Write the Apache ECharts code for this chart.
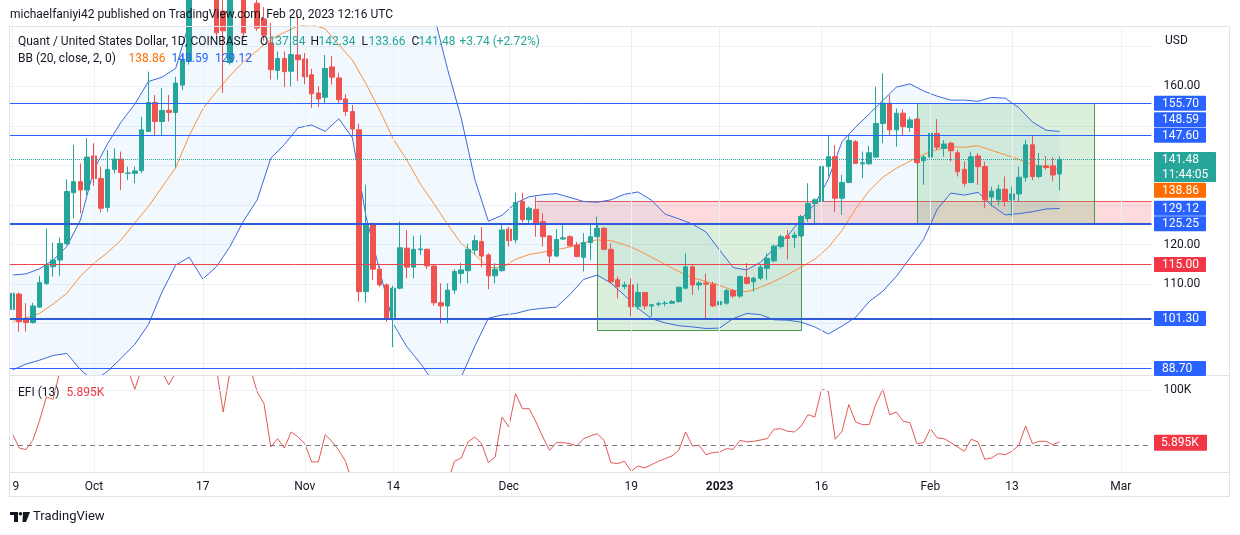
<!DOCTYPE html>
<html>
<head>
<meta charset="utf-8">
<script src="https://cdn.jsdelivr.net/npm/echarts/dist/echarts.min.js"></script>
<style>
  html, body { margin: 0; padding: 0; background: #ffffff; }
  #chart { width: 1240px; height: 535px; }
</style>
</head>
<body>
<div id="chart"></div>
<script>
// ---------------- DATA ----------------
const firstDay = '2022-09-19';
const dayCount = 168;
// tick labels on the time axis
const tickDates = ['2022-09-19','2022-10-01','2022-10-17','2022-11-01','2022-11-14','2022-12-01','2022-12-19','2023-01-01','2023-01-16','2023-02-01','2023-02-13','2023-03-01'];
const tickTexts = ['19','Oct','17','Nov','14','Dec','19','2023','16','Feb','13','Mar'];
// price-axis tick labels that are not hidden under the price boxes
const priceTickLabels = [110, 120, 160];

// daily candles [open, high, low, close], QNT/USD, from 2022-09-19
const ohlc = [
[103.6,108.9,98.4,107.7],[107.5,107.9,98.0,100.5],[101.1,105.2,98.0,100.3],[100.3,105.3,100.0,104.5],[104.2,112.1,104.0,110.4],
[110.2,124.1,109.8,114.7],[114.4,120.5,111.9,116.1],[116.1,121.8,112.1,120.3],[120.2,136.5,119.9,133.4],[133.1,145.2,126.6,135.9],
[135.9,140.5,127.9,133.8],[133.8,146.9,132.5,142.1],[142.4,145.6,134.8,136.7],[136.7,139.7,128.1,129.2],[129.4,143.9,128.3,139.0],
[139.0,144.3,138.0,141.6],[141.6,143.5,133.8,138.2],[138.0,139.7,136.3,138.1],[138.0,139.7,135.5,138.6],[138.7,152.3,138.0,149.0],
[148.6,163.7,148.6,155.9],[155.9,157.8,147.7,151.1],[151.1,159.5,147.7,153.9],[153.9,157.8,151.1,153.4],[153.4,162.4,139.5,160.8],
[160.3,168.0,159.0,166.5],[166.3,188,165.5,185],[185,196,181,192],[192,203,187,198],[198,202,184,190],
[186,190,172,173.5],[179,183,158.3,174],[166,190,165.5,185],[185,195,179,190],[184,190,172,173.5],
[176,186,175.5,182],[181,184,174,174.7],[177,180,171.5,172.9],[171,176,161.7,164.2],[164.0,168.8,161.7,167.0],
[167.0,168.8,159.8,163.7],[163.8,178,160,168.0],[167.9,178,161.3,166.7],[166.9,168.4,160.5,162.4],[162.9,164.4,154.5,158.1],
[158.3,160,154.8,156.8],[157.2,167.9,155.5,164.5],[164.9,167.6,160.4,162.3],[162.1,163.4,155.5,156.6],[156.8,158,152.5,153.6],
[153.6,155.3,147.3,149.2],[149.0,150.6,105.6,108.1],[108.1,135.1,105.3,125.2],[125.2,125.6,111.0,113.8],[113.8,114.6,109.4,109.8],
[109.8,110.2,100.5,101.1],[101.1,109.6,94.1,109.0],[109.0,125.8,108.7,119.2],[119.1,123.7,111.5,114.3],[114.3,122.2,111.5,118.8],
[118.7,122.4,117.4,118.9],[118.8,119.0,113.8,114.6],[114.6,114.8,104.5,105.3],[105.3,110.2,100.1,104.5],[104.5,110.2,100.1,108.5],
[108.5,113.8,107.5,113.2],[112.7,115.4,110.2,113.6],[113.4,120.2,110.2,118.8],[118.6,122.4,117.4,121.0],[120.8,124.4,114.3,117.1],
[117.4,117.8,108.7,112.1],[112.1,115.3,110.2,113.8],[113.4,125.0,113.2,123.7],[123.9,124.5,119.5,121.0],[121.2,133.1,120.3,130.6],
[130.9,133.1,125.6,126.3],[126.3,129.6,125.4,129.2],[128.9,132.1,122.0,125.4],[125.8,127.9,119.5,122.0],[122.2,122.4,115.3,117.1],
[117.1,123.9,116.9,121.3],[121.4,124.9,121.2,121.7],[122.0,122.4,119.5,119.7],[119.9,120.7,116.8,117.0],[116.8,122.9,113.2,120.5],
[120.5,125.4,116.1,122.0],[122.0,127.1,121.9,124.1],[124.1,124.5,118.6,118.8],[118.8,120.3,110.2,110.6],[111.1,111.9,106.4,109.4],
[109.4,110.6,108.7,109.8],[109.8,111.5,101.8,104.3],[104.3,110.2,103.6,107.9],[107.9,107.9,103.6,104.5],[104.5,105.0,101.8,104.8],
[104.9,105.6,104.3,105.1],[105.1,105.8,104.4,105.2],[105.2,106.0,105.0,105.6],[105.6,109.4,105.3,109.2],[109.0,117.8,108.7,114.4],
[114.4,114.8,107.3,109.8],[109.8,110.8,108.5,110.3],[110.3,112.7,101.4,110.0],[110.0,110.6,104.2,104.5],[104.8,106.0,104.5,105.6],
[105.2,108.8,104.8,108.4],[108.4,108.8,106.5,107.0],[107.0,112.2,106.5,111.9],[111.7,115.3,110.0,110.2],[110.6,111.9,108.1,111.5],
[111.5,115.0,111.0,114.3],[114.0,117.8,111.1,116.5],[115.9,120.0,115.5,119.6],[119.5,122.5,119.0,122.0],[122.2,123.7,116.3,121.6],
[121.8,123.3,119.1,122.4],[122.2,127.5,122.0,127.1],[126.6,135.5,125.8,130.4],[130.4,131.7,125.4,131.3],[130.9,143.9,130.0,139.7],
[139.7,147.7,137.2,142.2],[142.2,145.2,128.3,131.7],[131.7,137.6,127.5,135.7],[135.7,147.7,135.5,146.3],[146.0,146.4,140.4,140.5],
[140.4,143.5,136.75,140.7],[140.4,144.9,140.3,143.2],[142.1,159.9,141.9,150.6],[150.6,163.3,145.6,155.7],[155.7,157.8,147.7,149.0],
[149.0,154.4,144.75,153.2],[153.2,154.2,147.7,149.8],[149.6,152.3,148.5,151.5],[151.7,151.9,140.5,140.7],[141.2,142.6,135.1,142.1],
[142.1,149.8,135.1,148.1],[148.1,151.7,143.9,144.6],[144.3,146.4,142.2,145.4],[145.6,146.0,141.0,143.7],[143.2,143.9,137.2,138.4],
[139.0,141.0,134.65,135.5],[135.7,143.5,135.5,142.2],[142.4,143.1,135.1,139.7],[139.7,140.96,129.2,131.3],[132.0,134.65,129.6,133.5],
[131.3,135.1,130.0,134.0],[134.0,137.2,129.6,130.9],[131.3,134.65,127.1,132.8],[132.8,139.7,130.9,137.0],[137.0,146.4,135.9,145.2],
[145.2,147.4,136.3,137.2],[137.2,143.1,136.75,139.9],[139.9,142.4,138.9,139.5],[139.9,142.1,136.0,137.6],[137.84,142.34,133.66,141.48]
];

// Bollinger Bands (20, close, 2) at these candle positions
const bbIndex = [0,2,4,6,8,10,12,14,16,18,20,22,24,26,28,30,32,34,36,38,40,42,44,46,48,50,52,54,56,58,60,62,64,66,68,70,72,74,76,78,80,82,84,86,88,90,92,94,96,98,100,102,104,106,108,110,112,114,116,118,120,122,124,126,128,130,132,134,136,138,140,142,144,146,148,150,152,154];
const bbUpper = [112.3,112.6,113.9,116.1,119.5,126.2,139.0,145.5,151.0,155.5,
161.2,162.3,164.5,176.0,188,198,205,210,212,213,
213,212,211,210,208,206,203,200,196,191,
185,178,164.3,152.0,136.5,125.9,127.4,130.5,132.1,132.6,
132.9,131.9,130.9,130.7,131.3,132.7,133.3,131.2,127.7,126.5,
125.2,123.2,118.6,114.2,113.6,115.5,119.0,122.2,126.5,130.2,
136.6,146.0,149.7,153.0,156.4,159.8,160.6,158.8,157.5,156.5,
156.5,156.2,157.2,157.0,154.6,151.0,148.9,148.59];
const bbMiddle = [100.5,101.5,102.6,105.0,107.7,112.0,115.3,118.0,121.2,125.5,
129.6,134.5,139.4,147.5,154.3,158.6,162.7,166.2,169.0,171.9,
173.6,175.2,175.6,174.5,170.5,166.6,160.6,154.0,146.7,141.4,
135.3,130.3,125.1,120.3,117.5,114.2,114.2,116.3,117.5,118.1,
118.7,119.4,120.5,121.2,121.0,120.0,118.6,116.8,115.0,113.2,
111.6,110.7,109.7,108.4,108.1,109.2,110.7,112.4,114.3,116.3,
119.3,123.6,129.0,133.6,137.0,139.3,141.1,142.8,144.0,144.7,
144.6,145.0,143.8,142.7,141.5,140.2,139.6,138.86];
const bbLower = [88.3,89.8,90.8,92.0,92.5,88.4,85.5,88.0,91.3,94.8,
99.8,108.0,114.8,116.8,111.3,114.4,119.5,126.0,131.3,141.8,
145.3,149.5,150.2,148.6,151.8,147.0,127.1,113.5,100.0,94.2,
90.0,85.0,84.0,86.5,94.3,101.4,102.2,102.6,103.5,103.9,
104.2,107.4,111.2,112.3,110.3,107.2,103.9,101.3,100.2,99.5,
99.2,98.8,98.9,101.3,102.6,102.3,101.0,100.9,100.4,99.2,
97.4,99.4,101.6,105.6,108.2,112.0,116.6,121.3,128.9,133.0,
132.5,133.2,129.9,127.5,127.8,128.3,129.0,129.12];

// Elder's Force Index (13), in thousands
const efi = [20.7,-5.5,-8.3,8.5,45,87.8,83.5,136,170,185,
165,190,160,140,165,160,145,138,101.8,140,
175,150,134,110,132,160,250,280,300,240,
140,60.3,135,160,150,140,96.9,75.6,-3.7,11.6,
-5.5,23.8,14.6,2.4,-31,-31,18.9,6.7,-10,-30,
-70,-600,-300,-330,-300,-320,-200,-120,-130,-100,
-85,-95,-150,-120,-70,-29.9,-23.8,5.5,14.6,2.4,
-32.3,-21.9,51.2,32.9,93.8,66.4,66.4,42,14.6,-9.7,
4.3,4.3,2.4,-1.8,11.6,16.5,20.7,8.5,-32.3,-34.1,
-29.9,-48,-38.4,-42,-35.9,-29.9,-25,-20,-9.7,23.8,
-1.8,-0.6,-17.7,-14,-12.8,-6.7,-7.9,8.5,5.5,6.7,
9,11.6,28.7,29.9,25,23.8,34.7,55.4,51.2,101.8,
98.1,10.4,25,73.9,42.1,37.2,37.2,75.6,101.8,55.4,
60.3,43.3,40.8,2.4,4.3,29.9,12.8,11.6,4.3,-3.7,
-11.6,10.4,5.5,-26.2,-23.8,-15.8,-17.7,-11.6,-0.6,34.7,
2.4,6.7,6.7,0.6,5.895];

// horizontal levels drawn on the chart
const levelValues = [155.70, 147.60, 125.25, 115.00, 101.30, 88.70];
const levelKinds  = ['blue', 'blue', 'blueBold', 'red', 'blueBold', 'blue'];
const lastPrice = 141.48;
const lastCountdown = '11:44:05';
const bbLast = { upper: 148.59, middle: 138.86, lower: 129.12 };
const efiLast = 5.895;
// zones (start date, end date or null = extends to the right edge, price bounds)
const zones = [
  { from: '2022-12-05', to: null,         top: 131.1,  bottom: 125.25, kind: 'red' },
  { from: '2022-12-14', to: '2023-01-13', top: 125.25, bottom: 98.4,   kind: 'green' },
  { from: '2023-01-30', to: '2023-02-25', top: 155.70, bottom: 125.25, kind: 'green' }
];

// ---------------- BUILD ----------------
const categories = [];
(function () {
  const t0 = Date.parse(firstDay + 'T00:00:00Z');
  for (let d = 0; d < dayCount; d++) categories.push(new Date(t0 + d * 86400000).toISOString().slice(0, 10));
})();
const tickMap = {};
tickDates.forEach((d, k) => { tickMap[d] = tickTexts[k]; });

const candleData = ohlc.map(r => [r[0], r[3], r[2], r[1]]);
const efiData = efi.map((v, k) => [k, v]);
const upperData = bbIndex.map((x, k) => [x, bbUpper[k]]);
const middleData = bbIndex.map((x, k) => [x, bbMiddle[k]]);
const lowerData = bbIndex.map((x, k) => [x, bbLower[k]]);

const UP = '#26a69a', DOWN = '#ef5350';
const BOX_BLUE = '#2962ff', RED = '#f23645', ORANGE = '#ff6d00';
const FONT = 'Roboto, "Liberation Sans", Arial, sans-serif';
const TXT = '#131722';
const GRIDC = '#eef0f5';

const levelStyle = {
  blue: { color: '#2962ff', width: 1 },
  blueBold: { color: '#2f5ad8', width: 2 },
  red: { color: '#ec4550', width: 1 }
};
const zoneStyle = {
  red:   { fill: 'rgba(242,54,69,0.18)', stroke: 'rgba(236,69,80,0.9)', sides: 'tb' },
  green: { fill: 'rgba(76,175,80,0.2)',  stroke: '#4a9a4e',              sides: 'tblr' }
};

const chart = echarts.init(document.getElementById('chart'), null, { renderer: 'canvas' });

const gridL = 9, gridR = 88.6;
const option = {
  animation: false,
  backgroundColor: '#ffffff',
  textStyle: { fontFamily: FONT },
  grid: [
    { left: gridL, right: gridR, top: 26, height: 349, containLabel: false, outerBoundsMode: 'none' },
    { left: gridL, right: gridR, top: 376, height: 96, containLabel: false, outerBoundsMode: 'none' }
  ],
  xAxis: [
    { type: 'category', gridIndex: 0, data: categories, boundaryGap: true,
      axisLine: { show: false }, axisTick: { show: false }, axisLabel: { show: false }, splitLine: { show: false } },
    { type: 'category', gridIndex: 1, data: categories, boundaryGap: true,
      axisLine: { show: false }, axisTick: { show: false }, splitLine: { show: false },
      axisLabel: {
        show: true, margin: 9, fontSize: 12, color: TXT, fontFamily: FONT,
        interval: (idx, val) => tickMap[val] !== undefined,
        formatter: (val) => tickMap[val] === '2023' ? '{b|2023}' : (tickMap[val] || ''),
        rich: { b: { fontWeight: 'bold', fontSize: 12, color: TXT, fontFamily: FONT } }
      } }
  ],
  yAxis: [
    { type: 'value', gridIndex: 0, position: 'right', min: 87.05, max: 175.23, splitNumber: 9, scale: true,
      axisLine: { show: false }, axisTick: { show: false },
      splitLine: { show: true, lineStyle: { color: GRIDC, width: 1 } },
      axisLabel: { margin: 12, fontSize: 12, color: TXT, fontFamily: FONT, showMinLabel: false, showMaxLabel: false,
        formatter: (v) => priceTickLabels.indexOf(Math.round(v * 100) / 100) >= 0 ? v.toFixed(2) : '' } },
    { type: 'value', gridIndex: 1, position: 'right', min: -49.4, max: 126.1, splitNumber: 3,
      axisLine: { show: false }, axisTick: { show: false }, splitLine: { show: false },
      axisLabel: { margin: 12, fontSize: 12, color: TXT, fontFamily: FONT, showMinLabel: false, showMaxLabel: false,
        formatter: (v) => v === 100 ? '100K' : '' } }
  ],
  series: [
    // grid lines (below everything)
    { type: 'line', name: 'gridTop', xAxisIndex: 0, yAxisIndex: 0, data: categories.map(() => null), z: 0, silent: true,
      markLine: { silent: true, symbol: ['none', 'none'], label: { show: false },
        lineStyle: { color: GRIDC, width: 1, type: 'solid' },
        data: tickDates.map(d => ({ xAxis: d })) } },
    { type: 'line', name: 'gridBottom', xAxisIndex: 1, yAxisIndex: 1, data: categories.map(() => null), z: 0, silent: true,
      markLine: { silent: true, symbol: ['none', 'none'], label: { show: false },
        lineStyle: { color: GRIDC, width: 1, type: 'solid' },
        data: tickDates.map(d => ({ xAxis: d })).concat([{ yAxis: 100 }]) } },
    // zones
    { type: 'custom', name: 'zones', xAxisIndex: 0, yAxisIndex: 0, z: 1, silent: true, clip: true,
      data: zones.map((zn, k) => [categories.indexOf(zn.from), zn.top, k]),
      renderItem: function (params, api) {
        const zn = zones[params.dataIndex];
        const st = zoneStyle[zn.kind];
        const cs = params.coordSys;
        const p1 = api.coord([categories.indexOf(zn.from), zn.top]);
        const p2 = zn.to ? api.coord([categories.indexOf(zn.to), zn.bottom]) : [cs.x + cs.width, api.coord([0, zn.bottom])[1]];
        const x1 = Math.round(p1[0]) + 0.5, x2 = Math.round(p2[0]) + 0.5, y1 = Math.round(p1[1]) + 0.5, y2 = Math.round(p2[1]) + 0.5;
        const ch = [{ type: 'rect', shape: { x: x1, y: y1, width: x2 - x1, height: y2 - y1 }, style: { fill: st.fill } }];
        const ls = { stroke: st.stroke, lineWidth: 1 };
        if (st.sides.indexOf('t') >= 0) ch.push({ type: 'line', shape: { x1: x1, y1: y1, x2: x2, y2: y1 }, style: ls });
        if (st.sides.indexOf('b') >= 0) ch.push({ type: 'line', shape: { x1: x1, y1: y2, x2: x2, y2: y2 }, style: ls });
        if (st.sides.indexOf('l') >= 0) ch.push({ type: 'line', shape: { x1: x1, y1: y1, x2: x1, y2: y2 }, style: ls });
        if (st.sides.indexOf('r') >= 0) ch.push({ type: 'line', shape: { x1: x2, y1: y1, x2: x2, y2: y2 }, style: ls });
        return { type: 'group', children: ch };
      } },
    // BB background
    { type: 'custom', name: 'bbFill', xAxisIndex: 0, yAxisIndex: 0, z: 1, silent: true, clip: true,
      data: [[0, bbMiddle[0]]],
      renderItem: function (params, api) {
        const pts = [];
        for (let k = 0; k < bbIndex.length; k++) pts.push(api.coord([bbIndex[k], bbUpper[k]]));
        for (let k = bbIndex.length - 1; k >= 0; k--) pts.push(api.coord([bbIndex[k], bbLower[k]]));
        return { type: 'polygon', shape: { points: pts }, style: { fill: 'rgba(33,150,243,0.06)' } };
      } },
    { type: 'line', name: 'BB upper', xAxisIndex: 0, yAxisIndex: 0, data: upperData, showSymbol: false, z: 2, silent: true,
      lineStyle: { color: '#3d68dc', width: 1 } },
    { type: 'line', name: 'BB lower', xAxisIndex: 0, yAxisIndex: 0, data: lowerData, showSymbol: false, z: 2, silent: true,
      lineStyle: { color: '#3d68dc', width: 1 } },
    { type: 'line', name: 'BB basis', xAxisIndex: 0, yAxisIndex: 0, data: middleData, showSymbol: false, z: 2, silent: true,
      lineStyle: { color: '#f7913d', width: 1 } },
    { type: 'candlestick', name: 'QNTUSD', xAxisIndex: 0, yAxisIndex: 0, data: candleData, z: 3, barWidth: 5, clip: true,
      itemStyle: { color: UP, color0: DOWN, borderColor: UP, borderColor0: DOWN, borderWidth: 1 },
      markLine: { silent: true, symbol: ['none', 'none'], label: { show: false },
        data: levelValues.map((v, k) => ({ yAxis: v, lineStyle: { color: levelStyle[levelKinds[k]].color, width: levelStyle[levelKinds[k]].width, type: 'solid', opacity: 1 } }))
          .concat([{ yAxis: lastPrice, lineStyle: { color: UP, width: 1, type: 'dotted', opacity: 1 } }]) } },
    { type: 'line', name: 'EFI', xAxisIndex: 1, yAxisIndex: 1, data: efiData, showSymbol: false, z: 3, silent: true,
      lineStyle: { color: '#e05a55', width: 1 },
      markLine: { silent: true, symbol: ['none', 'none'], label: { show: false },
        data: [{ yAxis: 0, lineStyle: { color: '#787b86', width: 1, type: [5, 4] } }] } }
  ]
};
chart.setOption(option);

// ---------------- OVERLAYS (text, price boxes, frame) ----------------
function txt(x, y, s, color, size, weight) {
  return { type: 'text', x: x, y: y, z: 50, silent: true,
    style: { text: s, fill: color, fontSize: size || 12, fontFamily: FONT, fontWeight: weight || 'normal', verticalAlign: 'middle', align: 'left' } };
}
const g = [];
const BORDER = '#e0e3eb';
function hline(x1, x2, y) { return { type: 'line', z: 40, silent: true, shape: { x1: x1, y1: y, x2: x2, y2: y }, style: { stroke: BORDER, lineWidth: 1 } }; }
function vline(x, y1, y2) { return { type: 'line', z: 40, silent: true, shape: { x1: x, y1: y1, x2: x, y2: y2 }, style: { stroke: BORDER, lineWidth: 1 } }; }
g.push({ type: 'rect', z: 39, silent: true, shape: { x: 0, y: 474, width: 9, height: 22 }, style: { fill: '#ffffff' } });
g.push(hline(9, 1230, 26.5), hline(9, 1230, 375.5), hline(9, 1230, 472.5), hline(9, 1230, 496.5), vline(9.5, 26, 497), vline(1229.5, 26, 497));

// header texts
g.push(txt(10, 15, 'michaelfaniyi42 published on TradingView.com, Feb 20, 2023 12:16 UTC', TXT, 12));
g.push(txt(18, 42, 'Quant / United States Dollar, 1D, COINBASE', TXT, 12));
const o = ohlc[ohlc.length - 1];
g.push(txt(260, 42, 'O', TXT, 12), txt(268.5, 42, o[0].toFixed(2), UP, 12));
g.push(txt(310.5, 42, 'H', TXT, 12), txt(318.5, 42, o[1].toFixed(2), UP, 12));
g.push(txt(361.5, 42, 'L', TXT, 12), txt(368.5, 42, o[2].toFixed(2), UP, 12));
g.push(txt(411.5, 42, 'C', TXT, 12), txt(418.5, 42, o[3].toFixed(2), UP, 12));
g.push(txt(459.5, 42, '+3.74 (+2.72%)', UP, 12));
g.push(txt(18, 58.5, 'BB (20, close, 2, 0)', TXT, 12));
g.push(txt(128.5, 58.5, bbLast.middle.toFixed(2), ORANGE, 12));
g.push(txt(171.5, 58.5, bbLast.upper.toFixed(2), BOX_BLUE, 12));
g.push(txt(215, 58.5, bbLast.lower.toFixed(2), BOX_BLUE, 12));
g.push(txt(18, 392.5, 'EFI (13)', TXT, 12), txt(66.5, 392.5, efiLast.toFixed(3) + 'K', RED, 12));
g.push(txt(1165, 41, 'USD', TXT, 12));

// TradingView logo
g.push({ type: 'rect', z: 50, silent: true, shape: { x: 10, y: 512, width: 8, height: 3 }, style: { fill: TXT } });
g.push({ type: 'rect', z: 50, silent: true, shape: { x: 14, y: 512, width: 4, height: 10 }, style: { fill: TXT } });
g.push({ type: 'circle', z: 50, silent: true, shape: { cx: 20.5, cy: 513.8, r: 1.8 }, style: { fill: TXT } });
g.push({ type: 'polygon', z: 50, silent: true, shape: { points: [[23, 512], [30, 512], [26, 522], [22.5, 522]] }, style: { fill: TXT } });
g.push(txt(33, 517, 'TradingView', TXT, 13));

// price boxes on the right scale: lines and last price keep their place, indicator labels move aside
const HALF = 7.75;
const fixedBoxes = levelValues.map((v, k) => ({ v: v, c: levelKinds[k] === 'red' ? RED : BOX_BLUE }))
  .concat([{ v: lastPrice, c: UP, t2: lastCountdown }]);
const flexBoxes = [{ v: bbLast.lower, c: BOX_BLUE }, { v: bbLast.upper, c: BOX_BLUE }, { v: bbLast.middle, c: ORANGE }];
function span(b, cy) { return [cy - HALF, cy + HALF + (b.t2 ? 15 : 0)]; }
const placed = [];
fixedBoxes.forEach(b => { b.cy = chart.convertToPixel({ yAxisIndex: 0 }, b.v); placed.push(span(b, b.cy)); });
flexBoxes.forEach(b => {
  const n = chart.convertToPixel({ yAxisIndex: 0 }, b.v);
  let best = n;
  outer: for (let d = 0; d < 300; d += 0.25) {
    for (const cy of [n - d, n + d]) {
      const s = span(b, cy);
      if (!placed.some(p => s[0] < p[1] && p[0] < s[1])) { best = cy; break outer; }
    }
  }
  b.cy = best; placed.push(span(b, best));
});
fixedBoxes.concat(flexBoxes).forEach(b => {
  const top = b.cy - 7.5;
  const h = b.t2 ? 30 : 15;
  const w = b.t2 ? 62 : 52;
  g.push({ type: 'rect', z: 45, silent: true, shape: { x: 1154, y: top, width: w, height: h, r: 1 }, style: { fill: b.c } });
  g.push({ type: 'text', z: 46, silent: true, x: 1162, y: top + 8,
    style: { text: b.v.toFixed(2), fill: '#ffffff', fontSize: 12, fontFamily: FONT, verticalAlign: 'middle' } });
  if (b.t2) g.push({ type: 'text', z: 46, silent: true, x: 1162, y: top + 22.5,
    style: { text: b.t2, fill: '#ffffff', fontSize: 12, fontFamily: FONT, verticalAlign: 'middle' } });
});
const ey = chart.convertToPixel({ yAxisIndex: 1 }, efiLast);
g.push({ type: 'rect', z: 45, silent: true, shape: { x: 1154, y: ey - 7, width: 53, height: 16, r: 1 }, style: { fill: RED } });
g.push({ type: 'text', z: 46, silent: true, x: 1161, y: ey + 1,
  style: { text: efiLast.toFixed(3) + 'K', fill: '#ffffff', fontSize: 12, fontFamily: FONT, verticalAlign: 'middle' } });

chart.setOption({ graphic: g });
</script>
</body>
</html>
